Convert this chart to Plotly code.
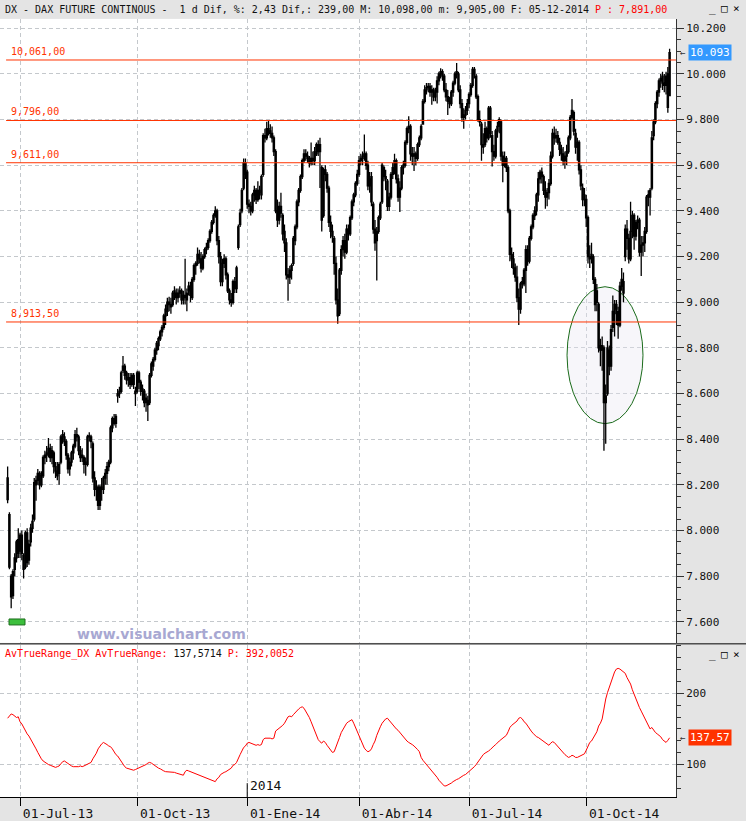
import pandas as pd
import plotly.graph_objects as go

# trading calendar (Eurex days shown on the chart)
START, END = "2013-06-20", "2014-12-05"
HOLIDAYS = ["2013-12-24", "2013-12-25", "2013-12-26", "2013-12-31",
            "2014-01-01", "2014-04-18", "2014-04-21", "2014-05-01"]

# daily candles, one row of values per month
OPEN = [
    8230, 8070, 7800, 7715, 7830, 7880, 7960,
    7910, 7980, 7890, 7840, 7990, 7870, 7950, 8010, 8050, 8200, 8220, 8250, 8200, 8240, 8320, 8330, 8340, 8360, 8320, 8340, 8280, 8260, 8250,
    8300, 8410, 8410, 8390, 8330, 8270, 8300, 8340, 8370, 8420, 8410, 8350, 8330, 8320, 8290, 8290, 8410, 8410, 8380, 8230, 8180, 8190,
    8110, 8190, 8180, 8230, 8250, 8280, 8300, 8450, 8490, 8470, 8590, 8600, 8610, 8700, 8720, 8690, 8660, 8670, 8640, 8680, 8610,
    8610, 8690, 8650, 8610, 8610, 8560, 8570, 8560, 8680, 8720, 8750, 8790, 8810, 8840, 8870, 8890, 8940, 8960, 9000, 8990, 8990, 9040, 9040,
    9020, 9040, 9050, 9010, 9030, 9010, 9050, 9070, 9020, 9100, 9160, 9170, 9210, 9190, 9150, 9200, 9230, 9240, 9270, 9310, 9350,
    9380, 9400, 9270, 9200, 9090, 9170, 9190, 9120, 9050, 9010, 9000, 9090, 9060, 9240, 9340, 9400, 9500, 9610,
    9570, 9430, 9420, 9400, 9470, 9490, 9450, 9490, 9470, 9560, 9730, 9720, 9760, 9750, 9740, 9720, 9660, 9400, 9360, 9420, 9380, 9310,
    9260, 9120, 9110, 9140, 9170, 9270, 9330, 9440, 9490, 9550, 9620, 9650, 9640, 9630, 9610, 9630, 9620, 9650, 9690, 9660,
    9590, 9380, 9580, 9560, 9500, 9350, 9310, 9280, 9170, 9010, 8950, 9140, 9230, 9270, 9220, 9320, 9300, 9370, 9440, 9470, 9520,
    9560, 9620, 9630, 9640, 9650, 9600, 9510, 9550, 9430, 9320, 9270, 9310, 9370, 9440, 9590, 9550, 9530, 9420, 9460, 9560,
    9590, 9620, 9540, 9460, 9500, 9590, 9600, 9700, 9760, 9770, 9650, 9640, 9650, 9630, 9690, 9720, 9780, 9880, 9930, 9940, 9945,
    9920, 9930, 9900, 9920, 9970, 10000, 10010, 9990, 9930, 9900, 9880, 9870, 9920, 9960, 10000, 10000, 9930, 9870, 9810, 9820, 9840,
    9870, 9910, 9950, 10020, 9990, 9900, 9800, 9780, 9690, 9690, 9760, 9720, 9850, 9730, 9660, 9640, 9750, 9770, 9790, 9640, 9600, 9630, 9590,
    9400, 9210, 9190, 9150, 9110, 9020, 8970, 9080, 9080, 9140, 9230, 9180, 9280, 9330, 9380, 9400, 9470, 9540, 9570, 9550, 9490,
    9460, 9480, 9520, 9640, 9740, 9720, 9730, 9700, 9670, 9650, 9620, 9640, 9660, 9720, 9810, 9830, 9740, 9680, 9700, 9580, 9500, 9450,
    9450, 9370, 9200, 9200, 9200, 9100, 9050, 8990, 8810, 8790, 8800, 8560, 8600, 8790, 8720, 8890, 8950, 8990, 8960, 8900, 9070, 9090, 9200,
    9320, 9280, 9190, 9310, 9380, 9290, 9350, 9360, 9220, 9250, 9260, 9310, 9460, 9460, 9500, 9730, 9790, 9870, 9920, 9970,
    9990, 9960, 9950, 10000, 9905,
]
HIGH = [
    8280, 8080, 7810, 7830, 7900, 7960, 8010,
    7990, 8000, 7900, 8000, 8010, 7960, 8030, 8070, 8230, 8240, 8270, 8260, 8260, 8330, 8350, 8370, 8405, 8380, 8370, 8350, 8300, 8300, 8300,
    8420, 8440, 8430, 8400, 8340, 8320, 8350, 8380, 8440, 8450, 8420, 8370, 8360, 8330, 8320, 8420, 8430, 8420, 8390, 8260, 8220, 8200,
    8200, 8230, 8240, 8270, 8300, 8310, 8460, 8500, 8510, 8510, 8620, 8630, 8700, 8765, 8730, 8700, 8690, 8690, 8690, 8690, 8630,
    8700, 8700, 8660, 8640, 8620, 8600, 8590, 8690, 8740, 8760, 8800, 8830, 8850, 8880, 8900, 8950, 8990, 9020, 9024, 9020, 9050, 9070, 9060,
    9060, 9070, 9060, 9050, 9190, 9060, 9090, 9090, 9110, 9170, 9180, 9240, 9230, 9220, 9210, 9240, 9260, 9280, 9320, 9360, 9390,
    9420, 9410, 9290, 9220, 9190, 9210, 9200, 9130, 9060, 9040, 9100, 9110, 9160, 9340, 9410, 9500, 9630, 9630,
    9580, 9450, 9440, 9480, 9510, 9500, 9530, 9510, 9560, 9740, 9760, 9790, 9795, 9780, 9770, 9730, 9670, 9450, 9440, 9480, 9390, 9340,
    9280, 9150, 9160, 9170, 9290, 9340, 9450, 9500, 9560, 9630, 9670, 9670, 9660, 9640, 9700, 9660, 9680, 9700, 9710, 9720,
    9600, 9590, 9600, 9570, 9510, 9380, 9340, 9290, 9200, 9060, 9150, 9250, 9290, 9300, 9340, 9340, 9380, 9450, 9480, 9530, 9580,
    9640, 9650, 9660, 9735, 9660, 9620, 9570, 9570, 9440, 9360, 9330, 9380, 9440, 9610, 9600, 9580, 9540, 9480, 9570, 9610,
    9650, 9630, 9560, 9530, 9600, 9620, 9710, 9770, 9815, 9780, 9680, 9680, 9660, 9700, 9730, 9780, 9890, 9950, 9960, 9960, 9960,
    9950, 9940, 9940, 9990, 10010, 10025, 10020, 10000, 9960, 9930, 9900, 9930, 9970, 10010, 10048, 10010, 9950, 9890, 9850, 9860, 9890,
    9920, 9960, 10030, 10030, 10000, 9910, 9840, 9790, 9740, 9790, 9770, 9860, 9860, 9750, 9690, 9760, 9790, 9810, 9800, 9660, 9660, 9640, 9600,
    9410, 9240, 9220, 9170, 9160, 9060, 9090, 9110, 9150, 9250, 9250, 9290, 9340, 9390, 9420, 9480, 9570, 9580, 9590, 9560, 9530,
    9500, 9540, 9660, 9760, 9770, 9760, 9750, 9720, 9690, 9680, 9660, 9690, 9730, 9820, 9890, 9840, 9760, 9720, 9710, 9600, 9520, 9500,
    9470, 9380, 9250, 9260, 9210, 9110, 9080, 9000, 8840, 8850, 8810, 8640, 8830, 8810, 8900, 9030, 9010, 9010, 8980, 9090, 9150, 9130, 9340,
    9360, 9300, 9440, 9400, 9390, 9360, 9380, 9370, 9290, 9290, 9330, 9470, 9490, 9500, 9750, 9800, 9880, 9930, 9980, 10000,
    10010, 10000, 10010, 10030, 10110,
]
LOW = [
    8120, 7830, 7660, 7700, 7800, 7860, 7880,
    7880, 7870, 7790, 7830, 7840, 7850, 7930, 7990, 8040, 8130, 8200, 8180, 8190, 8230, 8290, 8300, 8320, 8300, 8290, 8250, 8230, 8220, 8200,
    8290, 8380, 8370, 8310, 8250, 8240, 8280, 8310, 8360, 8390, 8330, 8300, 8300, 8250, 8240, 8280, 8390, 8360, 8210, 8150, 8130, 8090,
    8090, 8130, 8160, 8200, 8200, 8260, 8290, 8430, 8460, 8450, 8560, 8580, 8600, 8690, 8660, 8640, 8630, 8620, 8630, 8620, 8545,
    8600, 8620, 8590, 8570, 8540, 8520, 8480, 8550, 8670, 8700, 8740, 8770, 8790, 8830, 8850, 8880, 8900, 8940, 8960, 8950, 8980, 9010, 8990,
    9000, 9020, 8990, 8990, 8990, 8960, 9030, 9000, 9010, 9090, 9120, 9160, 9170, 9130, 9140, 9190, 9210, 9230, 9260, 9300, 9340,
    9370, 9250, 9170, 9070, 9070, 9150, 9100, 9040, 8990, 8980, 8990, 9040, 9040, 9230, 9330, 9390, 9490, 9540,
    9410, 9390, 9380, 9390, 9440, 9430, 9440, 9450, 9450, 9550, 9700, 9710, 9730, 9720, 9700, 9640, 9390, 9330, 9340, 9370, 9270, 9220,
    9100, 9007, 9080, 9100, 9160, 9250, 9320, 9420, 9480, 9540, 9610, 9620, 9610, 9590, 9600, 9600, 9600, 9640, 9640, 9500,
    9310, 9370, 9530, 9480, 9330, 9280, 9260, 9120, 8990, 8906, 8940, 9120, 9200, 9190, 9210, 9270, 9290, 9360, 9420, 9460, 9510,
    9550, 9600, 9600, 9620, 9580, 9490, 9480, 9420, 9300, 9225, 9095, 9300, 9360, 9430, 9530, 9490, 9400, 9400, 9450, 9540,
    9560, 9520, 9440, 9395, 9490, 9560, 9590, 9690, 9740, 9620, 9600, 9575, 9600, 9620, 9680, 9710, 9780, 9870, 9910, 9920, 9900,
    9865, 9880, 9880, 9870, 9950, 9980, 9970, 9920, 9880, 9820, 9850, 9860, 9900, 9950, 9980, 9920, 9850, 9790, 9760, 9800, 9820,
    9850, 9900, 9940, 9980, 9890, 9790, 9770, 9620, 9650, 9680, 9700, 9710, 9720, 9595, 9620, 9630, 9720, 9740, 9620, 9525, 9590, 9570, 9390,
    9180, 9150, 9120, 9090, 9000, 8900, 8950, 9060, 9070, 9040, 9160, 9170, 9270, 9320, 9360, 9380, 9440, 9520, 9520, 9470, 9410,
    9420, 9450, 9510, 9630, 9690, 9700, 9690, 9640, 9620, 9600, 9585, 9600, 9650, 9710, 9800, 9730, 9650, 9620, 9560, 9490, 9420, 9420,
    9330, 9170, 9150, 9170, 9080, 8960, 8960, 8780, 8720, 8700, 8350, 8380, 8590, 8680, 8700, 8870, 8850, 8900, 8840, 8890, 9050, 9000, 9180,
    9230, 9170, 9180, 9280, 9230, 9270, 9320, 9200, 9115, 9200, 9220, 9300, 9420, 9380, 9490, 9710, 9780, 9850, 9900, 9940,
    9930, 9920, 9910, 9830, 9905,
]
CLOSE = [
    8135, 7840, 7710, 7820, 7880, 7950, 7900,
    7980, 7900, 7830, 7990, 7860, 7940, 8010, 8040, 8210, 8220, 8250, 8200, 8240, 8320, 8330, 8340, 8360, 8320, 8350, 8280, 8260, 8240, 8290,
    8410, 8420, 8390, 8330, 8270, 8300, 8340, 8370, 8420, 8410, 8350, 8320, 8320, 8290, 8300, 8410, 8415, 8390, 8230, 8180, 8190, 8110,
    8190, 8180, 8230, 8250, 8280, 8300, 8450, 8490, 8470, 8500, 8600, 8610, 8690, 8720, 8680, 8660, 8670, 8640, 8680, 8640, 8600,
    8690, 8650, 8610, 8620, 8560, 8580, 8550, 8680, 8730, 8750, 8790, 8820, 8840, 8870, 8890, 8940, 8970, 9000, 8990, 8980, 9040, 9050, 9020,
    9040, 9050, 9010, 9030, 9020, 9040, 9070, 9030, 9100, 9160, 9170, 9210, 9190, 9150, 9200, 9230, 9240, 9270, 9310, 9350, 9380,
    9400, 9270, 9200, 9090, 9170, 9190, 9120, 9050, 9010, 9000, 9090, 9060, 9150, 9330, 9390, 9490, 9610, 9560,
    9430, 9420, 9400, 9470, 9490, 9450, 9490, 9480, 9550, 9730, 9720, 9760, 9750, 9740, 9720, 9660, 9400, 9360, 9420, 9390, 9300, 9260,
    9120, 9110, 9140, 9160, 9280, 9330, 9440, 9490, 9550, 9620, 9650, 9640, 9630, 9610, 9630, 9620, 9660, 9690, 9660, 9690,
    9360, 9580, 9560, 9500, 9350, 9310, 9290, 9170, 9010, 8940, 9140, 9230, 9270, 9220, 9320, 9300, 9370, 9440, 9470, 9520, 9560,
    9620, 9630, 9640, 9650, 9600, 9510, 9540, 9440, 9320, 9260, 9310, 9370, 9430, 9600, 9550, 9540, 9420, 9460, 9560, 9590,
    9620, 9540, 9460, 9500, 9590, 9600, 9700, 9760, 9770, 9650, 9640, 9650, 9630, 9690, 9720, 9770, 9880, 9930, 9940, 9945, 9920,
    9930, 9900, 9920, 9970, 10000, 10010, 9990, 9930, 9900, 9880, 9870, 9920, 9960, 10000, 10010, 9930, 9870, 9810, 9820, 9840, 9870,
    9910, 9950, 10020, 10000, 9900, 9800, 9790, 9690, 9680, 9760, 9720, 9850, 9740, 9660, 9640, 9750, 9770, 9800, 9640, 9600, 9630, 9590, 9400,
    9210, 9190, 9150, 9110, 9020, 8970, 9080, 9090, 9140, 9230, 9180, 9280, 9330, 9380, 9400, 9470, 9540, 9570, 9550, 9490, 9460,
    9480, 9520, 9640, 9740, 9720, 9730, 9700, 9670, 9650, 9620, 9640, 9660, 9720, 9810, 9840, 9750, 9680, 9700, 9580, 9510, 9450, 9470,
    9370, 9200, 9190, 9210, 9100, 8990, 9000, 8800, 8790, 8810, 8560, 8590, 8800, 8720, 8880, 8960, 8990, 8970, 8900, 9070, 9100, 9040, 9320,
    9280, 9190, 9310, 9380, 9290, 9350, 9360, 9220, 9250, 9260, 9310, 9460, 9470, 9490, 9720, 9790, 9870, 9920, 9970, 9980,
    9960, 9950, 9990, 9854, 10093,
]

# AvTrueRange indicator, lower panel
ATR = [
    165, 168, 171, 170, 168, 166, 167,
    160, 157, 152, 148, 143, 140, 136, 132, 127, 122, 117, 112, 108, 105, 103, 101, 100, 99, 98, 97, 96, 97, 98,
    101, 104, 105, 103, 101, 99, 98, 97, 97, 96, 97, 98, 97, 98, 99, 100, 101, 103, 108, 112, 116, 122,
    126, 129, 131, 130, 128, 126, 125, 122, 118, 114, 112, 108, 104, 100, 97, 95, 94, 93, 92, 92, 93,
    94, 95, 96, 97, 99, 100, 102, 103, 102, 100, 98, 97, 95, 94, 92, 91, 90, 90, 89, 89, 90, 89, 88,
    87, 86, 86, 85, 90, 92, 91, 90, 89, 88, 87, 86, 85, 84, 83, 82, 81, 80, 79, 78, 77,
    76, 80, 82, 86, 88, 89, 90, 92, 94, 95, 99, 100, 103, 110, 114, 119, 124, 126,
    130, 131, 130, 129, 128, 127, 128, 127, 128, 135, 137, 137, 138, 137, 136, 137, 147, 149, 150, 152, 155, 158,
    163, 167, 168, 167, 170, 173, 176, 178, 180, 181, 179, 175, 170, 166, 160, 153, 146, 140, 135, 132,
    130, 133, 131, 127, 124, 120, 117, 118, 124, 132, 138, 145, 150, 155, 158, 160, 162, 163, 158, 152, 146,
    140, 134, 128, 123, 120, 118, 119, 122, 128, 133, 141, 148, 153, 158, 162, 164, 165, 162, 158, 155,
    152, 150, 148, 145, 141, 138, 135, 133, 131, 130, 128, 126, 124, 121, 118, 110, 106, 103, 100, 97, 94,
    92, 88, 85, 82, 78, 75, 72, 70, 70, 71, 73, 74, 76, 78, 79, 80, 82, 84, 85, 86, 88,
    90, 92, 95, 97, 100, 104, 107, 112, 114, 116, 117, 119, 121, 124, 126, 128, 131, 133, 135, 137, 138, 141, 146,
    152, 155, 157, 159, 161, 165, 166, 164, 160, 158, 154, 150, 147, 144, 141, 139, 138, 136, 134, 132, 131,
    129, 127, 130, 132, 131, 128, 126, 123, 120, 117, 114, 112, 110, 111, 113, 112, 110, 110, 111, 112, 113, 115,
    120, 127, 131, 133, 137, 142, 146, 154, 158, 164, 180, 192, 201, 208, 215, 224, 230, 234, 235, 234, 232, 231, 228,
    222, 218, 213, 205, 198, 193, 187, 180, 175, 170, 166, 160, 156, 150, 152, 148, 145, 143, 141, 139,
    135, 133, 131, 134, 137.57,
]

LEVELS = [10061, 9796, 9611, 8913.5]
LEVEL_LABELS = ["10,061,00", "9,796,00", "9,611,00", "8,913,50"]

TICK_MONTHS = ["2013-07-01", "2013-10-01", "2014-01-01", "2014-04-01", "2014-07-01", "2014-10-01"]
TICK_LABELS = ["01-Jul-13", "01-Oct-13", "01-Ene-14", "01-Abr-14", "01-Jul-14", "01-Oct-14"]

W, H = 746, 821
MONO = "DejaVu Sans Mono"
GRID = "#c4c8cc"
RED = "#ff3300"


def px_x(x):
    return x / W


def px_y(y):
    return 1 - y / H


dates = [d for d in pd.bdate_range(START, END) if d.strftime("%Y-%m-%d") not in HOLIDAYS]
assert len(dates) == len(OPEN) == len(HIGH) == len(LOW) == len(CLOSE) == len(ATR), (
    len(dates), len(OPEN), len(HIGH), len(LOW), len(CLOSE), len(ATR))
bars = list(range(len(dates)))


def first_bar(day):
    ts = pd.Timestamp(day)
    return next(i for i, d in enumerate(dates) if d >= ts)


tick_bars = [first_bar(m) for m in TICK_MONTHS]
year_bar = first_bar("2014-01-01")

fig = go.Figure()
fig.add_trace(go.Candlestick(
    x=bars, open=OPEN, high=HIGH, low=LOW, close=CLOSE,
    increasing=dict(line=dict(color="#000000", width=1.3), fillcolor="#ffffff"),
    decreasing=dict(line=dict(color="#000000", width=1.3), fillcolor="#000000"),
    whiskerwidth=0, xaxis="x", yaxis="y", showlegend=False,
))
fig.add_trace(go.Scatter(
    x=bars, y=ATR, mode="lines", line=dict(color="#ff0000", width=1),
    xaxis="x2", yaxis="y2", showlegend=False,
))

plot_right = px_x(676)
x_range = [-4.3, 376.6]

common_x = dict(
    domain=[0, plot_right], range=x_range, tickvals=tick_bars,
    showgrid=True, gridcolor=GRID, griddash="4px,3px", zeroline=False,
)
fig.update_layout(
    width=W, height=H,
    margin=dict(l=0, r=0, t=0, b=0),
    paper_bgcolor="#e4e4e4", plot_bgcolor="#ffffff",
    separators=",.",
    showlegend=False,
    boxgap=0,
    xaxis=dict(**common_x, anchor="y", showticklabels=False, ticks="",
               rangeslider=dict(visible=False)),
    yaxis=dict(
        domain=[px_y(646), px_y(19)], range=[7508, 10241], anchor="x", side="right",
        tick0=0, dtick=200, tickformat=",d", ticks="outside", ticklen=7, tickcolor="#333333",
        showline=True, linecolor="#333333", linewidth=1, zeroline=False,
        showgrid=True, gridcolor=GRID, griddash="4px,3px",
        minor=dict(dtick=50, ticks="outside", ticklen=4, tickcolor="#333333", showgrid=False),
        tickfont=dict(family=MONO, size=11, color="#111111"),
    ),
    xaxis2=dict(
        **common_x, anchor="y2", matches="x", ticktext=TICK_LABELS,
        ticks="outside", ticklen=8, tickcolor="#000000",
        showline=True, linecolor="#000000", linewidth=1,
        ticklabelshift=38, ticklabelstandoff=-4,
        tickfont=dict(family=MONO, size=13, color="#111111"),
    ),
    yaxis2=dict(
        domain=[px_y(801), px_y(648)], range=[54.3, 268], anchor="x2", side="right",
        tick0=0, dtick=100, ticks="outside", ticklen=7, tickcolor="#333333",
        showline=True, linecolor="#333333", linewidth=1, zeroline=False,
        showgrid=True, gridcolor=GRID, griddash="4px,3px",
        minor=dict(dtick=100 / 6, ticks="outside", ticklen=4, tickcolor="#333333", showgrid=False),
        tickfont=dict(family=MONO, size=11, color="#111111"),
    ),
)

shapes = []
# support / resistance levels
for level in LEVELS:
    shapes.append(dict(type="line", xref="x domain", yref="y", x0=0.009, x1=1, y0=level, y1=level,
                       line=dict(color=RED, width=1)))
# ellipse around the October low
shapes.append(dict(type="circle", xref="x", yref="y", x0=315.2, x1=358.0, y0=8468, y1=9068,
                   line=dict(color="#1a6b1a", width=1), fillcolor="rgba(232,228,240,0.35)",
                   layer="between"))
# panel separator and year marker
shapes.append(dict(type="line", xref="paper", yref="paper", x0=0, x1=1, y0=px_y(647), y1=px_y(647),
                   line=dict(color="#000000", width=1)))
shapes.append(dict(type="line", xref="x2", yref="paper", x0=year_bar, x1=year_bar,
                   y0=px_y(801), y1=px_y(787), line=dict(color="#000000", width=1)))
# small green marker bottom-left of price panel
shapes.append(dict(type="rect", xref="paper", yref="paper", x0=px_x(9), x1=px_x(25),
                   y0=px_y(628), y1=px_y(622), fillcolor="#3cbf3c", line=dict(color="#1d6e1d", width=1)))
fig.update_layout(shapes=shapes)

annotations = [
    dict(xref="paper", yref="paper", x=px_x(3), y=px_y(9.5), xanchor="left", yanchor="middle",
         text="DX - DAX FUTURE CONTINOUS -&nbsp; 1 d Dif, %: 2,43 Dif,: 239,00 M: 10,098,00 "
              "m: 9,905,00 F: 05-12-2014 <span style='color:#ff0000'>P : 7,891,00</span>",
         showarrow=False, font=dict(family=MONO, size=10, color="#111111")),
    dict(xref="paper", yref="paper", x=px_x(3), y=px_y(657), xanchor="left", yanchor="middle",
         text="<span style='color:#ff0000'>AvTrueRange_DX AvTrueRange:</span> 137,5714 "
              "<span style='color:#ff0000'>P: 392,0052</span>",
         showarrow=False, font=dict(family=MONO, size=10, color="#111111")),
    dict(xref="paper", yref="paper", x=px_x(75), y=px_y(634), xanchor="left", yanchor="middle",
         yshift=-3, text="<b>www.visualchart.com</b>", showarrow=False,
         font=dict(family="DejaVu Sans", size=14, color="#a8a8d2")),
    dict(xref="x2", yref="paper", x=year_bar, y=px_y(799), xanchor="left", yanchor="bottom",
         xshift=1, text="2014", showarrow=False, font=dict(family=MONO, size=13, color="#111111")),
    # last value boxes on the right scales
    dict(xref="paper", yref="y", x=px_x(688), y=10093, xanchor="left", yanchor="middle",
         text="10.093", showarrow=False, bgcolor="#3399ff", borderpad=1,
         font=dict(family=MONO, size=11, color="#ffffff")),
    dict(xref="paper", yref="y", x=px_x(678), y=10093, xanchor="left", yanchor="middle",
         text="←", showarrow=False, font=dict(family=MONO, size=9, color="#333333")),
    dict(xref="paper", yref="y2", x=px_x(688), y=137.57, xanchor="left", yanchor="middle",
         text="137,57", showarrow=False, bgcolor="#ff3300", borderpad=1,
         font=dict(family=MONO, size=11, color="#ffffff")),
    dict(xref="paper", yref="y2", x=px_x(678), y=137.57, xanchor="left", yanchor="middle",
         text="←", showarrow=False, font=dict(family=MONO, size=9, color="#333333")),
]
for level, label in zip(LEVELS, LEVEL_LABELS):
    annotations.append(dict(xref="paper", yref="y", x=px_x(9), y=level, xanchor="left", yanchor="bottom",
                            yshift=1, text=label, showarrow=False,
                            font=dict(family=MONO, size=10, color=RED)))
# window buttons (minimise / maximise / close) on both panels
for top in (8.5, 657.5):
    for xpos, glyph in ((712, "_"), (724, "□"), (736, "×")):
        annotations.append(dict(xref="paper", yref="paper", x=px_x(xpos), y=px_y(top),
                                xanchor="center", yanchor="middle", text=glyph, showarrow=False,
                                font=dict(family=MONO, size=11, color="#000000")))
fig.update_layout(annotations=annotations)

# the page must not add its own margin around the 746x821 figure
fig.write_html("out.html", config={"displayModeBar": False},
               post_script="document.body.style.margin='0';")
